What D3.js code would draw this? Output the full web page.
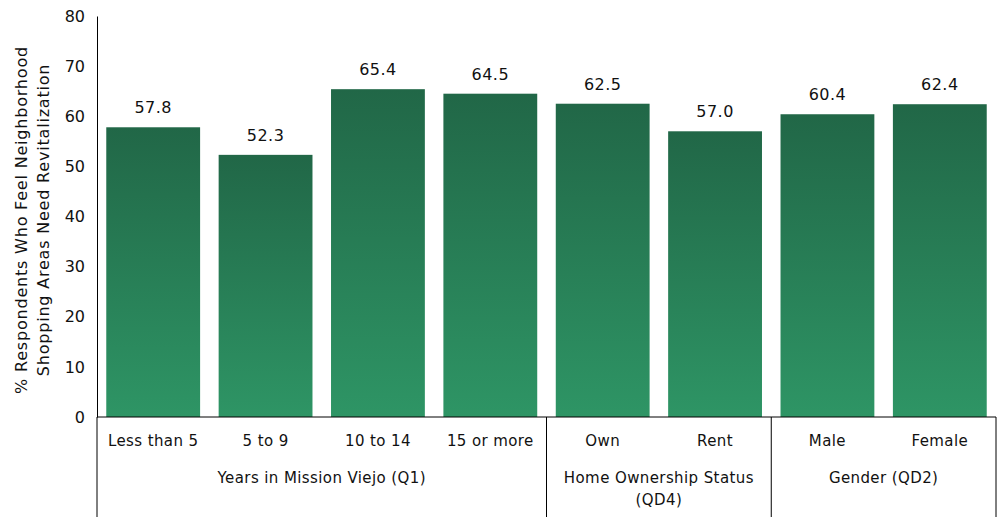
<!DOCTYPE html>
<html>
<head>
<meta charset="utf-8">
<script src="https://cdn.jsdelivr.net/npm/d3@7"></script>
<style>
  body { margin: 0; background: #fff; }
  svg text { font-family: "DejaVu Sans", Verdana, sans-serif; fill: #111; }
</style>
</head>
<body>
<div id="chart"></div>
<script>
// bar categories, in order
var categories = ["Less than 5", "5 to 9", "10 to 14", "15 or more", "Own", "Rent", "Male", "Female"]
var values = [57.8, 52.3, 65.4, 64.5, 62.5, 57.0, 60.4, 62.4]
// group labels with how many bars they span
var groups = [["Years in Mission Viejo (Q1)"], ["Home Ownership Status", "(QD4)"], ["Gender (QD2)"]]
var groupSizes = [4, 2, 2]
var yTicks = [0, 10, 20, 30, 40, 50, 60, 70, 80]
var yTitle = ["% Respondents Who Feel Neighborhood", "Shopping Areas Need Revitalization"]

var width = 998, height = 517
var margin = { top: 16, left: 97, right: 2, bottom: 100 }

var svg = d3.select("#chart").append("svg")
    .attr("width", width)
    .attr("height", height)

var x = d3.scaleBand()
    .domain(categories)
    .range([margin.left, width - margin.right])
    .paddingInner(0.165)
    .paddingOuter(0.0825)

var y = d3.scaleLinear()
    .domain([0, 80])
    .range([height - margin.bottom, margin.top])

var grad = svg.append("defs").append("linearGradient")
    .attr("id", "barGrad")
    .attr("x1", 0).attr("y1", 0).attr("x2", 0).attr("y2", 1)
grad.append("stop").attr("offset", "0%").attr("stop-color", "#216747")
grad.append("stop").attr("offset", "100%").attr("stop-color", "#2e9565")

// bars
svg.selectAll(".bar")
    .data(values)
    .enter().append("rect")
    .attr("class", "bar")
    .attr("x", (d, i) => x(categories[i]))
    .attr("y", d => y(d))
    .attr("width", x.bandwidth())
    .attr("height", d => y(0) - y(d))
    .attr("fill", "url(#barGrad)")

// value labels
svg.selectAll(".val")
    .data(values)
    .enter().append("text")
    .attr("class", "val")
    .attr("x", (d, i) => x(categories[i]) + x.bandwidth() / 2)
    .attr("y", d => y(d) - 14)
    .attr("text-anchor", "middle")
    .style("font-size", "16px")
    .style("letter-spacing", "0.5px")
    .text(d => d.toFixed(1))

// y axis (no tick marks)
var yAxis = svg.append("g")
    .attr("transform", "translate(" + margin.left + ",0)")
    .call(d3.axisLeft(y).tickValues(yTicks).tickSize(0).tickPadding(12))
yAxis.select(".domain").attr("stroke", "#000")
yAxis.selectAll("text").style("font-size", "16px").style("font-family", "DejaVu Sans, sans-serif")

// axis line continues down through the category table
svg.append("line")
    .attr("x1", margin.left).attr("x2", margin.left)
    .attr("y1", y(0)).attr("y2", height)
    .attr("stroke", "#000")

// y title
var title = svg.append("text")
    .attr("transform", "translate(27," + 220 + ") rotate(-90)")
    .attr("text-anchor", "middle")
    .style("font-size", "16px")
    .style("letter-spacing", "0.8px")
title.selectAll("tspan")
    .data(yTitle)
    .enter().append("tspan")
    .attr("x", 0)
    .attr("dy", (d, i) => i === 0 ? 0 : 22)
    .text(d => d)

// category table
var x0 = margin.left, x1 = width - margin.right
svg.append("line")
    .attr("x1", x0).attr("x2", x1)
    .attr("y1", y(0)).attr("y2", y(0))
    .attr("stroke", "#000")

svg.selectAll(".cat")
    .data(categories)
    .enter().append("text")
    .attr("class", "cat")
    .attr("x", d => x(d) + x.bandwidth() / 2)
    .attr("y", y(0) + 29)
    .attr("text-anchor", "middle")
    .style("font-size", "15px")
    .style("letter-spacing", "0.4px")
    .text(d => d)

var step = x.step()
var start = 0
groups.forEach(function(g, gi) {
    var n = groupSizes[gi]
    var left = x0 + start * step
    var right = x0 + (start + n) * step
    svg.append("line")
        .attr("x1", right).attr("x2", right)
        .attr("y1", y(0)).attr("y2", height)
        .attr("stroke", "#000")
    var t = svg.append("text")
        .attr("text-anchor", "middle")
        .style("font-size", "15px")
        .style("letter-spacing", "0.4px")
    t.selectAll("tspan")
        .data(g)
        .enter().append("tspan")
        .attr("x", (left + right) / 2)
        .attr("y", (d, i) => y(0) + 66 + i * 22)
        .text(d => d)
    start += n
})
</script>
</body>
</html>
